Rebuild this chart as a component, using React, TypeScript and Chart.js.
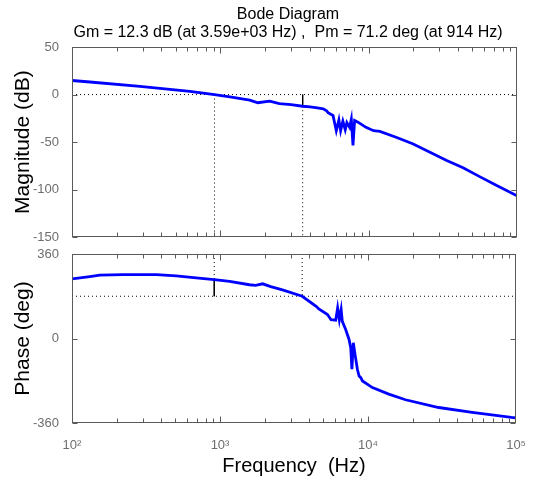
import React, { useEffect, useRef } from 'react';
import { Chart, registerables } from 'chart.js';

Chart.register(...registerables);

// ---- data ----
const magFreq = [100, 132, 287, 623, 914, 1160, 1580, 1790, 2150, 2500, 3000, 3590, 4030, 4500, 4940, 5200, 5320, 5750, 6050, 6300, 6470, 6700, 6950, 7130, 7440, 7640, 7840, 8040, 8470, 9590, 10800, 11900, 15300, 19800, 25700, 33300, 43300, 56000, 73000, 100000];
const magDb = [14.8, 13.2, 8.6, 3.4, 0, -2.4, -5.9, -8.6, -7.0, -9.5, -10.7, -12.3, -13.0, -14.0, -15.0, -17.0, -19.0, -22.0, -38.0, -26.6, -38.0, -28.0, -37.0, -29.5, -34.5, -26.0, -53.5, -27.3, -29.0, -34.5, -38.0, -38.7, -44.9, -51.8, -60.4, -69.0, -77.0, -86.3, -95.6, -106.5];

const phaseFreq = [100, 132, 154, 220, 372, 506, 690, 914, 1160, 1580, 1740, 1940, 2200, 2640, 3590, 4460, 4650, 5320, 5620, 6050, 6230, 6400, 6580, 6700, 7060, 7440, 7640, 7780, 7950, 8200, 8470, 8700, 8930, 9170, 10700, 13800, 17900, 30000, 50500, 93000, 100000];
const phaseDeg = [254, 264, 270, 272, 272, 267, 258, 251.2, 243, 229, 226, 233, 221, 207, 180, 137, 126, 102, 80, 78, 130, 80, 123, 73, 38, -4, -40, -131, -18, -75, -131, -160, -167, -181, -209, -237, -261, -294, -315, -336, -338];

// stability margins
const gmFreq = 3590;
const gmDb = 12.3;
const pmFreq = 914;
const pmDeg = 71.2;

// axes
const magTicks = [50, 0, -50, -100, -150];
const phaseTicks = [360, 0, -360];
const freqDecades = [100, 1000, 10000];
const freqMax = 100000;
const freqTickLabels: Record<number, string> = { 100: '10²', 1000: '10³', 10000: '10⁴', 100000: '10⁵' };

const titleText = 'Bode Diagram';
const subtitleText = 'Gm = 12.3 dB (at 3.59e+03 Hz) ,  Pm = 71.2 deg (at 914 Hz)';

const FAMILY = "'Liberation Sans', Arial, Helvetica, sans-serif";
const TICK_COLOR = '#6e6e6e';
const FRAME_COLOR = '#5a5a5a';

const freqTickValues: number[] = [];
freqDecades.forEach((d) => {
  for (let k = 1; k <= 9; k++) freqTickValues.push(k * d);
});
freqTickValues.push(freqMax);

const pts = (xs: number[], ys: number[]) => xs.map((x, i) => ({ x, y: ys[i] }));

function makeFramePlugin(yVals: number[]) {
  return {
    id: 'matlabFrame',
    afterDraw(chart: any) {
      const { ctx, chartArea: a } = chart;
      const xs = chart.scales.x;
      const ys = chart.scales.y;
      const L = Math.round(a.left) + 0.5;
      const R = Math.round(a.right) - 0.5;
      const T = Math.round(a.top) + 0.5;
      const B = Math.round(a.bottom) - 0.5;
      ctx.save();
      ctx.strokeStyle = FRAME_COLOR;
      ctx.lineWidth = 1;
      ctx.setLineDash([]);
      ctx.strokeRect(L, T, R - L, B - T);
      ctx.beginPath();
      freqTickValues.forEach((v) => {
        const p = Math.min(R, Math.round(xs.getPixelForValue(v)) + 0.5);
        const len = freqTickLabels[v] ? 6 : 4;
        ctx.moveTo(p, B);
        ctx.lineTo(p, B - len);
        ctx.moveTo(p, T);
        ctx.lineTo(p, T + len);
      });
      yVals.forEach((v) => {
        const p = Math.round(ys.getPixelForValue(v)) + 0.5;
        ctx.moveTo(L, p);
        ctx.lineTo(L + 5, p);
        ctx.moveTo(R, p);
        ctx.lineTo(R - 5, p);
      });
      ctx.stroke();
      ctx.restore();
    },
  };
}

const titlePlugin = {
  id: 'bodeTitle',
  afterDraw(chart: any) {
    const ctx = chart.ctx;
    ctx.save();
    ctx.fillStyle = '#000';
    ctx.font = `16px ${FAMILY}`;
    ctx.textAlign = 'center';
    ctx.textBaseline = 'alphabetic';
    ctx.fillText(titleText, 288, 19);
    ctx.fillText(subtitleText, 288, 37);
    ctx.restore();
  },
};

const dotted = (data: any[]) => ({
  data,
  borderColor: '#000',
  borderWidth: 1,
  borderDash: [1, 3],
  pointRadius: 0,
  fill: false,
});
const solid = (data: any[]) => ({
  data,
  borderColor: '#000',
  borderWidth: 1,
  pointRadius: 0,
  fill: false,
});

function makeOptions(
  yMin: number,
  yMax: number,
  yTicks: number[],
  yTitle: string,
  showX: boolean,
  padding: any
) {
  return {
    responsive: false,
    animation: false,
    events: [],
    layout: { padding },
    plugins: {
      legend: { display: false },
      tooltip: { enabled: false },
      title: { display: false },
    },
    scales: {
      x: {
        type: 'logarithmic',
        min: 100,
        max: freqMax,
        afterBuildTicks: (s: any) => {
          s.ticks = freqTickValues.map((v) => ({ value: v }));
        },
        afterFit: (s: any) => {
          s.height = showX ? 58 : 0;
        },
        grid: { display: false },
        border: { display: false },
        ticks: {
          display: showX,
          autoSkip: false,
          maxRotation: 0,
          color: TICK_COLOR,
          font: { size: 13, family: FAMILY },
          padding: 7,
          callback: (v: any) => freqTickLabels[v] ?? '',
        },
        title: {
          display: showX,
          text: 'Frequency  (Hz)',
          color: '#000',
          font: { size: 20, family: FAMILY },
          padding: { top: 0, bottom: 3 },
        },
      },
      y: {
        min: yMin,
        max: yMax,
        afterBuildTicks: (s: any) => {
          s.ticks = yTicks.map((v) => ({ value: v }));
        },
        afterFit: (s: any) => {
          s.width = 72;
        },
        grid: { display: false },
        border: { display: false },
        ticks: {
          color: TICK_COLOR,
          font: { size: 13, family: FAMILY },
          padding: 5,
          callback: (v: any) => String(v),
        },
        title: {
          display: true,
          text: yTitle,
          color: '#000',
          font: { size: 21, family: FAMILY },
          padding: { top: 11, bottom: 0 },
        },
      },
    },
  } as any;
}

export default function App() {
  const magRef = useRef<HTMLCanvasElement>(null);
  const phaseRef = useRef<HTMLCanvasElement>(null);

  useEffect(() => {
    const magChart = new Chart(magRef.current as HTMLCanvasElement, {
      type: 'line',
      data: {
        datasets: [
          {
            data: pts(magFreq, magDb),
            borderColor: '#0000ff',
            borderWidth: 2.8,
            pointRadius: 0,
            fill: false,
          } as any,
          dotted([{ x: 100, y: 0 }, { x: freqMax, y: 0 }]),
          dotted([{ x: pmFreq, y: 0 }, { x: pmFreq, y: -150 }]),
          solid([{ x: gmFreq, y: 0 }, { x: gmFreq, y: -gmDb }]),
          dotted([{ x: gmFreq, y: -gmDb }, { x: gmFreq, y: -150 }]),
        ],
      },
      options: makeOptions(-150, 50, magTicks, 'Magnitude (dB)', false, { top: 47, bottom: 9, left: 0, right: 16 }),
      plugins: [makeFramePlugin(magTicks), titlePlugin],
    });

    const phaseChart = new Chart(phaseRef.current as HTMLCanvasElement, {
      type: 'line',
      data: {
        datasets: [
          {
            data: pts(phaseFreq, phaseDeg),
            borderColor: '#0000ff',
            borderWidth: 2.8,
            pointRadius: 0,
            fill: false,
          } as any,
          dotted([{ x: 100, y: 180 }, { x: freqMax, y: 180 }]),
          dotted([{ x: gmFreq, y: 360 }, { x: gmFreq, y: 180 }]),
          dotted([{ x: pmFreq, y: 360 }, { x: pmFreq, y: 180 + pmDeg }]),
          solid([{ x: pmFreq, y: 180 + pmDeg }, { x: pmFreq, y: 180 }]),
        ],
      },
      options: makeOptions(-360, 360, phaseTicks, 'Phase (deg)', true, { top: 14, bottom: 0, left: 0, right: 16 }),
      plugins: [makeFramePlugin(phaseTicks)],
    });

    return () => {
      magChart.destroy();
      phaseChart.destroy();
    };
  }, []);

  return (
    <div style={{ position: 'absolute', left: 0, top: 0, width: 533, height: 481, background: '#fff' }}>
      <canvas ref={magRef} width={533} height={250} style={{ position: 'absolute', left: 0, top: 0 }} />
      <canvas ref={phaseRef} width={533} height={241} style={{ position: 'absolute', left: 0, top: 240 }} />
    </div>
  );
}
